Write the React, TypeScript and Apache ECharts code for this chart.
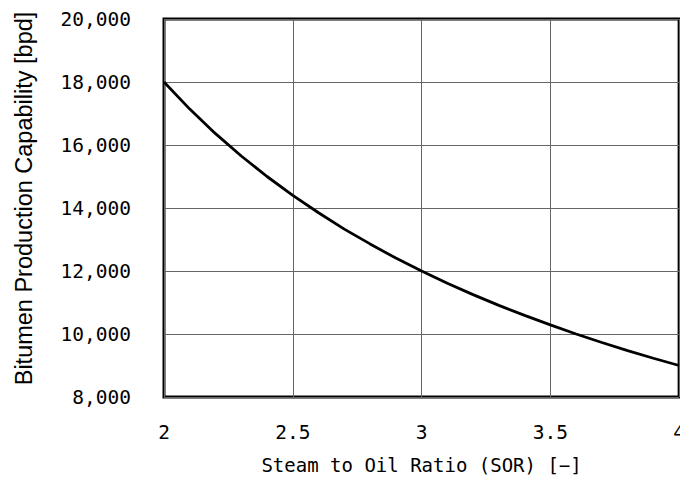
import React, { useEffect, useRef } from "react";
import * as echarts from "echarts";

const sor = [2, 2.1, 2.2, 2.3, 2.4, 2.5, 2.6, 2.7, 2.8, 2.9, 3, 3.1, 3.2, 3.3, 3.4, 3.5, 3.6, 3.7, 3.8, 3.9, 4];
const bitumen = [18000, 17140, 16360, 15650, 15000, 14400, 13850, 13330, 12860, 12410, 12000, 11610, 11250, 10910, 10590, 10290, 10000, 9730, 9470, 9230, 9000];

const xName = "Steam to Oil Ratio (SOR) [\u2212]";
const yName = "Bitumen Production Capability [bpd]";

export default function App() {
  const ref = useRef<HTMLDivElement>(null);
  useEffect(() => {
    const chart = echarts.init(ref.current!, null, { renderer: "svg" });
    const mono = "'DejaVu Sans Mono', monospace";
    chart.setOption({
      animation: false,
      backgroundColor: "#ffffff",
      grid: {
        left: 164,
        right: 5,
        top: 19,
        bottom: 93,
        show: true,
        borderColor: "#000",
        borderWidth: 3,
        backgroundColor: "transparent",
      },
      xAxis: {
        type: "value",
        min: 2,
        max: 4,
        interval: 0.5,
        name: xName,
        nameLocation: "middle",
        nameGap: 58,
        nameTextStyle: { fontFamily: mono, fontSize: 19, color: "#000" },
        axisLine: { show: false },
        axisTick: { show: false },
        axisLabel: {
          fontFamily: mono,
          fontSize: 19.5,
          color: "#000",
          margin: 25,
          formatter: (v: number) => String(v),
        },
        splitLine: { show: true, lineStyle: { color: "#666", width: 1 } },
      },
      yAxis: {
        type: "value",
        min: 8000,
        max: 20000,
        interval: 2000,
        name: yName,
        nameLocation: "middle",
        nameGap: 128,
        nameTextStyle: {
          fontFamily: "'Liberation Sans', Arial, sans-serif",
          fontSize: 23.5,
          color: "#000",
          padding: [0, 0, 0, 19],
        },
        axisLine: { show: false },
        axisTick: { show: false },
        axisLabel: {
          fontFamily: mono,
          fontSize: 19.5,
          color: "#000",
          margin: 33,
          formatter: (v: number) => v.toLocaleString("en-US"),
        },
        splitLine: { show: true, lineStyle: { color: "#666", width: 1 } },
      },
      series: [
        {
          type: "line",
          data: sor.map((x, i) => [x, bitumen[i]]),
          showSymbol: false,
          lineStyle: { color: "#000", width: 2.8 },
          z: 3,
        },
      ],
    });
    return () => chart.dispose();
  }, []);
  return <div ref={ref} style={{ width: 688, height: 490, margin: -8 }} />;
}
